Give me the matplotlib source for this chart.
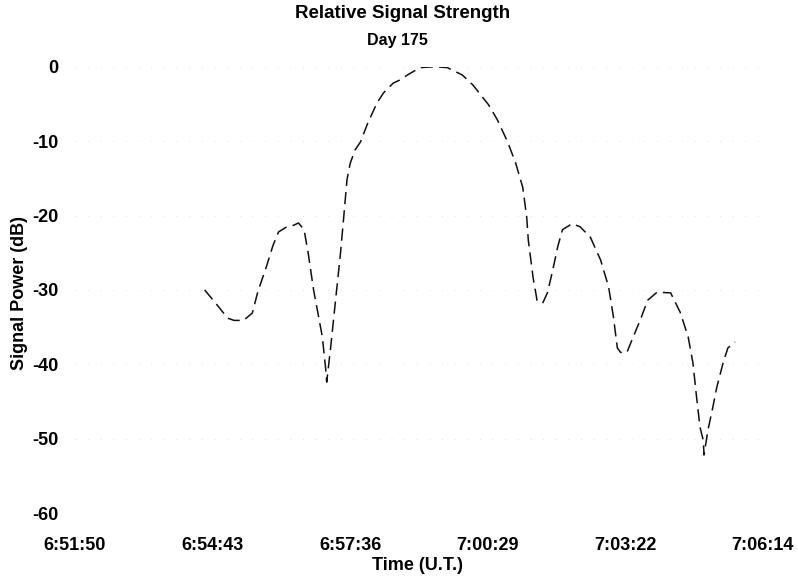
import numpy as np
import matplotlib
matplotlib.use("Agg")
import matplotlib.pyplot as plt

plt.rcParams['font.family'] = ['Liberation Sans', 'DejaVu Sans']
plt.rcParams['font.weight'] = 'bold'
plt.rcParams['axes.unicode_minus'] = False

# seconds after 6:51:50 U.T. and relative power in dB
elapsed_s = [163, 177, 192, 200, 212, 223, 230, 240, 249, 256, 265, 275, 281,
             288, 293, 300, 311, 315, 316.5, 321.5, 328, 334, 338, 342, 346,
             352, 359, 368, 380, 388, 400, 409, 418, 434, 451, 468, 487, 500,
             520, 531, 544, 554, 563, 568, 570, 576, 581, 588, 594, 600, 607,
             613, 625, 635, 648, 661, 671, 677, 682, 686, 694, 702, 711, 720,
             732, 749, 761, 771, 777, 782, 786, 790, 791, 796, 802, 807, 815,
             821, 830]
power_db = [-30.0, -31.8, -33.8, -34.1, -34.1, -33.1, -30.2, -27.1, -24.0,
            -22.2, -21.6, -21.3, -21.0, -21.9, -24.9, -30.0, -36.3, -40.4,
            -42.4, -37.7, -31.0, -24.9, -20.1, -15.2, -13.0, -11.2, -10.1,
            -7.6, -4.8, -3.5, -2.2, -1.75, -1.1, -0.1, 0.0, -0.1, -1.1, -2.4,
            -5.1, -7.1, -10.1, -12.9, -16.2, -20.2, -23.3, -28.3, -31.4,
            -31.8, -30.4, -27.7, -24.2, -21.9, -21.1, -21.5, -22.9, -26.0,
            -29.6, -33.6, -37.8, -38.4, -38.4, -36.3, -34.0, -31.4, -30.3,
            -30.4, -33.0, -36.3, -39.8, -44.8, -48.5, -50.2, -52.2, -48.8,
            -45.8, -43.1, -39.8, -37.8, -37.0]

time_labels = ['6:51:50', '6:54:43', '6:57:36', '7:00:29', '7:03:22', '7:06:14']
db_ticks = [0, -10, -20, -30, -40, -50, -60]


def to_seconds(label):
    h, m, s = (int(v) for v in label.split(':'))
    return h * 3600 + m * 60 + s


t0 = to_seconds(time_labels[0])
tick_pos = [to_seconds(l) - t0 for l in time_labels]

fig = plt.figure(figsize=(7.98, 5.81), dpi=100)
ax = fig.add_axes([0.094, 0.117, 0.861, 0.768])

ax.plot(elapsed_s, power_db, color='#111111', linewidth=1.1,
        linestyle=(0, (8, 4)))

ax.set_xlim(tick_pos[0], tick_pos[-1])
ax.set_ylim(-60, 0)
ax.set_xticks(tick_pos)
ax.set_xticklabels(time_labels)
ax.set_yticks(db_ticks)
ax.tick_params(length=0, labelsize=13)
ax.tick_params(axis='x', pad=17)
ax.tick_params(axis='y', pad=12)
for sp in ax.spines.values():
    sp.set_visible(False)
# gridlines barely show on the printed page
ax.yaxis.grid(True, color='#e2e2e2', linestyle=(0, (1, 12)), linewidth=0.7)
ax.set_axisbelow(True)

fig.text(0.505, 0.976, 'Relative Signal Strength', ha='center', va='center',
         fontsize=13.5, fontweight='bold')
fig.text(0.4975, 0.931, 'Day 175', ha='center', va='center',
         fontsize=11.5, fontweight='bold')
fig.text(0.523, 0.0275, 'Time (U.T.)', ha='center', va='center',
         fontsize=13, fontweight='bold')
fig.text(0.024, 0.496, 'Signal Power (dB)', ha='center', va='center',
         rotation=90, fontsize=13, fontweight='bold')

fig.savefig('out.png', dpi=100)
